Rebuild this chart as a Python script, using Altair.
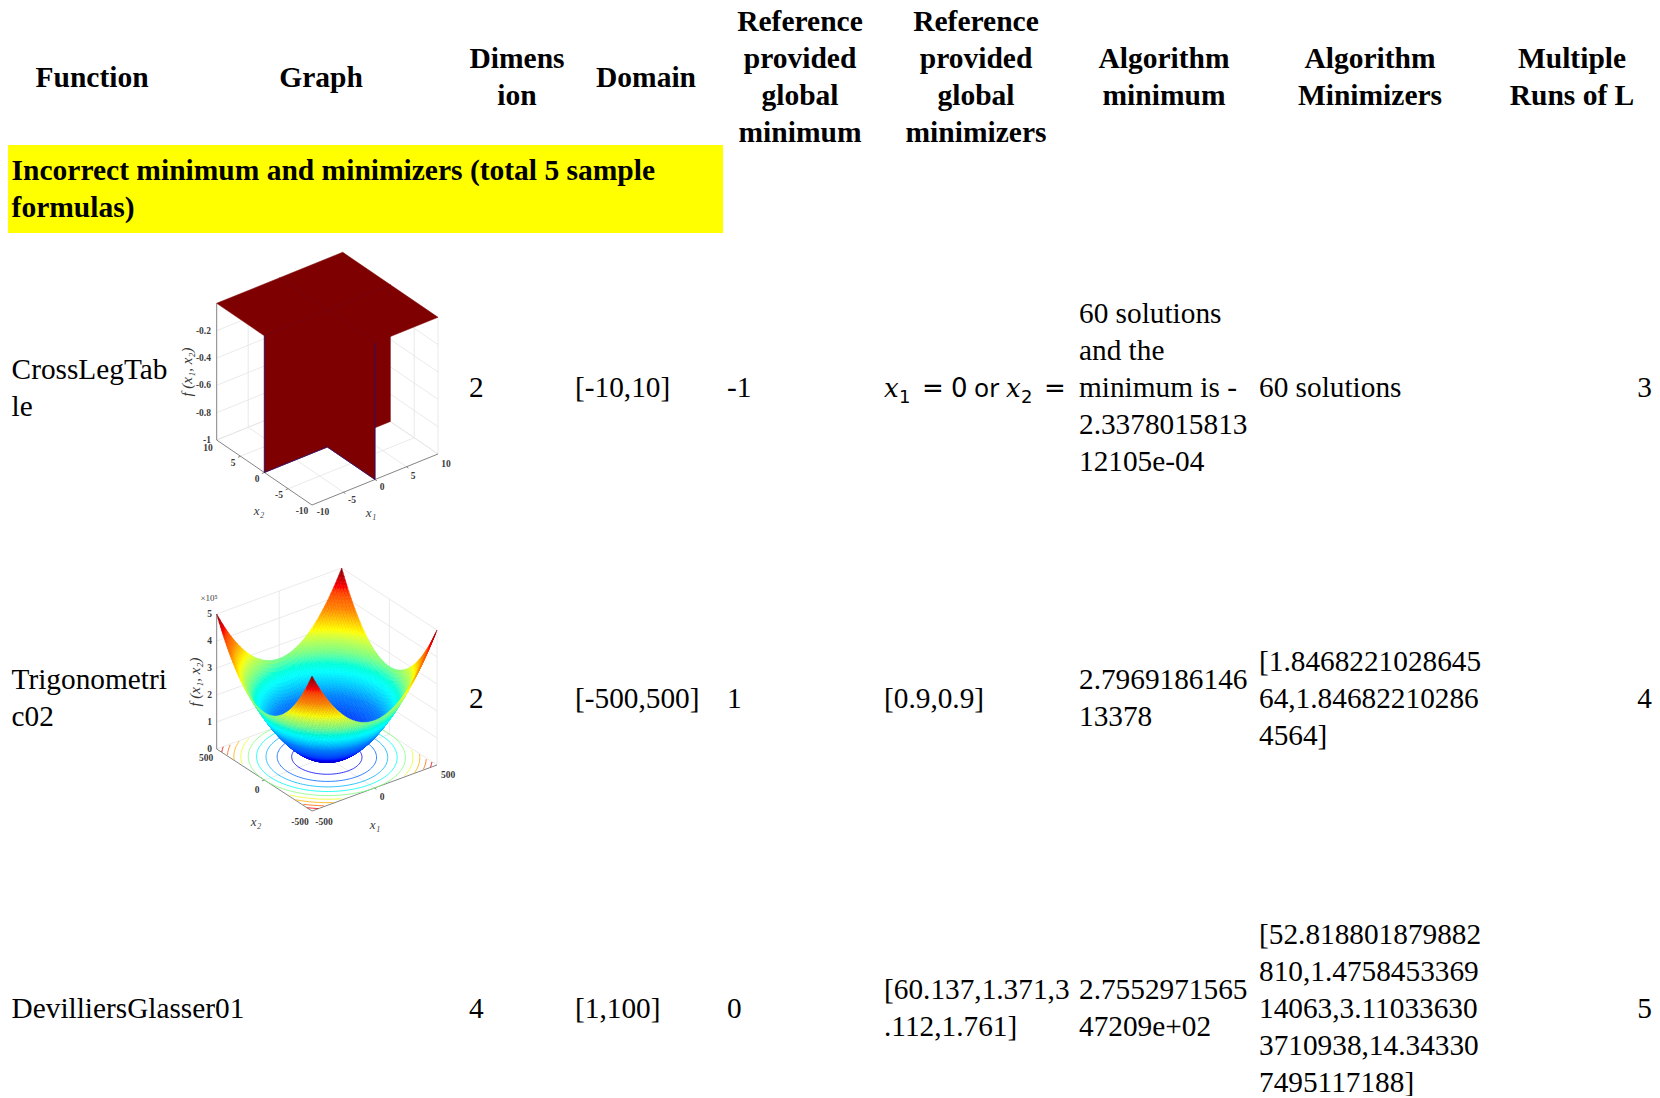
import math
import altair as alt
import pandas as pd

# ---------- table content ----------
header_cells = [
    ["Function"], ["Graph"], ["Dimens", "ion"], ["Domain"],
    ["Reference", "provided", "global", "minimum"],
    ["Reference", "provided", "global", "minimizers"],
    ["Algorithm", "minimum"], ["Algorithm", "Minimizers"], ["Multiple", "Runs of L"],
]
section_title = ["Incorrect minimum and minimizers (total 5 sample", "formulas)"]
col_function = [["CrossLegTab", "le"], ["Trigonometri", "c02"], ["DevilliersGlasser01"]]
col_dimension = [["2"], ["2"], ["4"]]
col_domain = [["[-10,10]"], ["[-500,500]"], ["[1,100]"]]
col_ref_min = [["-1"], ["1"], ["0"]]
col_ref_args = [[], ["[0.9,0.9]"], ["[60.137,1.371,3", ".112,1.761]"]]
col_alg_min = [
    ["60 solutions", "and the", "minimum is -", "2.3378015813", "12105e-04"],
    ["2.7969186146", "13378"],
    ["2.7552971565", "47209e+02"],
]
col_alg_args = [
    ["60 solutions"],
    ["[1.8468221028645", "64,1.84682210286", "4564]"],
    ["[52.818801879882", "810,1.4758453369", "14063,3.11033630", "3710938,14.34330", "7495117188]"],
]
col_runs = [["3"], ["4"], ["5"]]

# ---------- graph values ----------
table_ticks = [-5, 0, 5]
table_z_ticks = [-0.2, -0.4, -0.6, -0.8, -1]
table_x2_labels = ["10", "5", "0", "-5", "-10"]
table_x1_labels = ["-10", "-5", "0", "5", "10"]
# height (in 1e5) of the bowl's edge above its mid-line, from x = 0 out to |x| = 500 in steps of 12.5
bowl_profile = [0, .0016, .0063, .0141, .025, .0391, .0563, .0766, .1, .1266, .1563, .1891, .225, .2641,
                .3063, .3516, .4, .4516, .5063, .5641, .625, .6891, .7563, .8266, .9, .9766, 1.0563,
                1.1391, 1.225, 1.3141, 1.4063, 1.5016, 1.6, 1.7016, 1.8063, 1.9141, 2.025, 2.1391,
                2.2563, 2.3766, 2.5]
bowl_z_ticks = [0, 1, 2, 3, 4, 5]
contour_levels = [0.5, 1, 1.5, 2, 2.5, 3, 3.5, 4, 4.5]
jet_stops = [0, 0.55, 1.25, 1.9, 2.5, 3.1, 3.75, 4.4, 5]
jet_colors = ["#00008f", "#0000ff", "#0080ff", "#00ffff", "#80ff80", "#ffff00", "#ff8000", "#ff0000", "#800000"]

# ---------- layout (page pixels) ----------
W, H = 1644, 1088
FS = 29.3
FS_BOLD = 29.5
LEAD = 37
header_x = [92, 321, 517, 646, 800, 976, 1164, 1370, 1572]
header_y = [77, 77, 76.5, 77, 76.5, 76.5, 76.5, 76.5, 76.5]
row_y = [387.5, 698, 1008]
left_edges = dict(fn=11.6, dim=469, dom=575, rmin=727, rarg=884, amin=1079, aarg=1259)
BASE = 9.5  # middle of line to alphabetic baseline


def cell(lines, x, cy):
    top = cy - (len(lines) - 1) * LEAD / 2
    return [dict(text=t, x=x, y=top + i * LEAD + BASE) for i, t in enumerate(lines)]


xs = alt.Scale(domain=[8, 8 + W], range=[0, W])
ys = alt.Scale(domain=[8, 8 + H], range=[0, H])
X = alt.X("x:Q", scale=xs, axis=None)
Y = alt.Y("y:Q", scale=ys, axis=None)


def text_layer(rows, **mk):
    opts = dict(font="Liberation Serif", fontSize=FS, color="#000000", baseline="alphabetic", align="left")
    opts.update(mk)
    return alt.Chart(pd.DataFrame(rows)).mark_text(**opts).encode(x=X, y=Y, text="text:N")


header_rows = []
for lines, x, y in zip(header_cells, header_x, header_y):
    header_rows += cell(lines, x, y)

section_rows = cell(section_title, left_edges["fn"], 188.7)
body_rows, right_rows = [], []
for i, cy in enumerate(row_y):
    body_rows += cell(col_function[i], left_edges["fn"], cy)
    body_rows += cell(col_dimension[i], left_edges["dim"], cy)
    body_rows += cell(col_domain[i], left_edges["dom"], cy)
    body_rows += cell(col_ref_min[i], left_edges["rmin"], cy)
    if col_ref_args[i]:
        body_rows += cell(col_ref_args[i], left_edges["rarg"], cy)
    body_rows += cell(col_alg_min[i], left_edges["amin"], cy)
    body_rows += cell(col_alg_args[i], left_edges["aarg"], cy)
    right_rows += cell(col_runs[i], 1652, cy)

banner = alt.Chart(pd.DataFrame([dict(x=6.5, x2=723, y=145, y2=233)])).mark_rect(color="#ffff00").encode(
    x=X, x2="x2:Q", y=Y, y2="y2:Q")


# ---------- 3D helpers ----------
def projector(center, ux1, ux2, uz, z0):
    def p(a, b, z):
        return (center[0] + ux1[0] * a + ux2[0] * b,
                center[1] + ux1[1] * a + ux2[1] * b - uz * (z - z0))
    return p


def pg(pts):
    return [[x - 8, y - 8] for x, y in pts]


def line_feat(pts, **props):
    return dict(type="Feature", geometry=dict(type="LineString", coordinates=pg(pts)), properties=props)


def poly_feat(pts, **props):
    ring = pg(pts)
    ring.append(ring[0])
    return dict(type="Feature", geometry=dict(type="Polygon", coordinates=[ring]), properties=props)


def geo(features, **mk):
    return alt.Chart(alt.Data(values=features)).mark_geoshape(**mk).project(type="identity", scale=1, translate=[0, 0])


GRID = "#e4e4e4"
AXIS = "#777777"


def box(p, lo, hi, ticks, zticks, ztop, zbot):
    grid = []
    for t in ticks:
        grid.append(line_feat([p(t, hi, zbot), p(t, hi, ztop)]))
        grid.append(line_feat([p(hi, t, zbot), p(hi, t, ztop)]))
        grid.append(line_feat([p(t, lo, zbot), p(t, hi, zbot)]))
        grid.append(line_feat([p(lo, t, zbot), p(hi, t, zbot)]))
    for z in zticks:
        grid.append(line_feat([p(lo, hi, z), p(hi, hi, z), p(hi, lo, z)]))
    grid.append(line_feat([p(lo, hi, ztop), p(hi, hi, ztop), p(hi, lo, ztop)]))
    grid.append(line_feat([p(hi, hi, zbot), p(hi, hi, ztop)]))
    grid.append(line_feat([p(hi, lo, zbot), p(hi, lo, ztop)]))
    grid.append(line_feat([p(lo, hi, zbot), p(hi, hi, zbot), p(hi, lo, zbot)]))
    axes = [line_feat([p(lo, hi, ztop), p(lo, hi, zbot), p(lo, lo, zbot), p(hi, lo, zbot)])]
    for t in ticks:
        axes.append(line_feat([p(t, lo, zbot), p(t, lo - (hi - lo) * 0.02, zbot)]))
        axes.append(line_feat([p(lo, t, zbot), p(lo - (hi - lo) * 0.02, t, zbot)]))
    return [geo(grid, filled=False, stroke=GRID, strokeWidth=0.8),
            geo(axes, filled=False, stroke=AXIS, strokeWidth=0.9)]


def small(rows, **mk):
    o = dict(fontSize=9.5, fontWeight="bold", color="#3a3a3a", align="center", baseline="middle")
    o.update(mk)
    return text_layer(rows, **o)


# ---------- graph 1: CrossLegTable ----------
p1 = projector((327.35, 447), (6.3, -2.55), (-4.765, -3.25), 136.7, -1)
lo, hi = -10, 10
RED = "#7f0000"
g1 = box(p1, lo, hi, table_ticks, table_z_ticks, 0, -1)
back_walls = [
    poly_feat([p1(0, 0, -1), p1(0, hi, -1), p1(0, hi, 0), p1(0, 0, 0)]),
    poly_feat([p1(0, 0, -1), p1(hi, 0, -1), p1(hi, 0, 0), p1(0, 0, 0)]),
]
front_walls = [
    poly_feat([p1(0, 0, -1), p1(lo, 0, -1), p1(lo, 0, 0), p1(0, 0, 0)]),
    poly_feat([p1(0, 0, -1), p1(0, lo, -1), p1(0, lo, 0), p1(0, 0, 0)]),
]
top_plane = [poly_feat([p1(lo, lo, 0), p1(hi, lo, 0), p1(hi, hi, 0), p1(lo, hi, 0)])]
g1.append(geo(back_walls + front_walls + top_plane, color=RED, stroke=RED, strokeWidth=0.5))
g1.append(geo([line_feat([p1(lo, 0, 0), p1(lo, 0, -1), p1(0, 0, -1), p1(0, lo, -1), p1(0, lo, 0)])],
              filled=False, stroke="#30106a", strokeWidth=0.9))
g1.append(geo([line_feat([p1(lo, 0, 0), p1(hi, 0, 0)]), line_feat([p1(0, lo, 0), p1(0, hi, 0)])],
              filled=False, stroke="#6a0420", strokeWidth=0.5))
g1_labels = [dict(text=str(t), x=211, y=p1(lo, hi, t)[1]) for t in table_z_ticks]
g1.append(small(g1_labels, align="right"))
g1_x2_pos = [(208, 448), (233, 463), (257, 479), (279, 495), (302, 511)]
g1_x1_pos = [(323, 512), (352, 500), (382, 487), (413, 476), (446, 464)]
g1.append(small([dict(text=t, x=a, y=b) for t, (a, b) in zip(table_x2_labels + table_x1_labels, g1_x2_pos + g1_x1_pos)]))
g1.append(small([dict(text="x₂", x=259, y=511), dict(text="x₁", x=371, y=513)],
                fontStyle="italic", fontWeight="normal", fontSize=13))
g1.append(small([dict(text="f (x₁, x₂)", x=187, y=372)], fontStyle="italic", fontWeight="normal",
                fontSize=15, angle=270))

# ---------- graph 2: Trigonometric02 ----------
p2 = projector((326.85, 757), (62.5 / 500, -23 / 500), (-47.65 / 500, -31 / 500), 27, 0)
g2 = box(p2, -500, 500, [0], bowl_z_ticks[1:-1], 5, 0)

jet = alt.Scale(domain=jet_stops, range=jet_colors)
contours = []
for lev in contour_levels:
    r = 500 * (2 * lev / 5) ** 0.5
    segs, cur = [], []
    for d in range(0, 361, 3):
        t = math.radians(d)
        a, b = r * math.cos(t), r * math.sin(t)
        if abs(a) <= 500 and abs(b) <= 500:
            cur.append(p2(a, b, 0))
        elif cur:
            segs.append(cur)
            cur = []
    if cur:
        segs.append(cur)
    for sg in segs:
        if len(sg) > 1:
            contours.append(line_feat(sg, z=lev))
g2.append(geo(contours, filled=False, strokeWidth=0.8).encode(
    stroke=alt.Stroke("properties.z:Q", scale=jet, legend=None)))

n = len(bowl_profile) - 1
grid_vals = [k * 12.5 for k in range(-n, n + 1)]
prof = [bowl_profile[abs(k)] for k in range(-n, n + 1)]
quads = []
for i in range(len(grid_vals) - 1):
    for j in range(len(grid_vals) - 1):
        a0, a1 = grid_vals[i], grid_vals[i + 1]
        b0, b1 = grid_vals[j], grid_vals[j + 1]
        zs = [prof[i] + prof[j], prof[i + 1] + prof[j], prof[i + 1] + prof[j + 1], prof[i] + prof[j + 1]]
        pts = [p2(a0, b0, zs[0]), p2(a1, b0, zs[1]), p2(a1, b1, zs[2]), p2(a0, b1, zs[3])]
        depth = p2((a0 + a1) / 2, (b0 + b1) / 2, 0)[1]
        quads.append((depth, poly_feat(pts, z=round(sum(zs) / 4, 3))))
quads.sort(key=lambda q: q[0])
g2.append(geo([q[1] for q in quads], strokeWidth=0.5).encode(
    fill=alt.Fill("properties.z:Q", scale=jet, legend=None),
    stroke=alt.Stroke("properties.z:Q", scale=jet, legend=None)))

g2.append(small([dict(text=str(t), x=212, y=p2(-500, 500, t)[1]) for t in bowl_z_ticks], align="right"))
g2.append(small([dict(text="×10⁵", x=209, y=598)], fontWeight="normal", fontSize=9))
g2.append(small([dict(text="500", x=206, y=758), dict(text="0", x=257, y=790), dict(text="-500", x=300, y=821.5),
                 dict(text="-500", x=324, y=821.5), dict(text="0", x=382, y=797), dict(text="500", x=448, y=775)]))
g2.append(small([dict(text="x₂", x=256, y=821.5), dict(text="x₁", x=375, y=825)],
                fontStyle="italic", fontWeight="normal", fontSize=13))
g2.append(small([dict(text="f (x₁, x₂)", x=195, y=682)], fontStyle="italic", fontWeight="normal",
                fontSize=15, angle=270))

# ---------- the math cell, run by run ----------
base_y = row_y[0] + BASE
math_layers = [
    text_layer([dict(text="x", x=884, y=base_y), dict(text="x", x=1006, y=base_y)], fontStyle="italic",
               font="DejaVu Serif", fontSize=26),
    text_layer([dict(text="1", x=899, y=base_y + 6), dict(text="2", x=1021, y=base_y + 6)], font="DejaVu Sans", fontSize=18),
    text_layer([dict(text="=", x=922, y=base_y), dict(text="0", x=951, y=base_y), dict(text="=", x=1044, y=base_y)],
               font="DejaVu Sans", fontSize=26),
    text_layer([dict(text="or", x=974, y=base_y)], font="Noto Sans", fontSize=25),
]

layers = [banner]
layers += g1 + g2
layers += [
    text_layer(header_rows, fontWeight="bold", align="center", fontSize=FS_BOLD),
    text_layer(section_rows, fontWeight="bold", fontSize=FS_BOLD),
    text_layer(body_rows),
    text_layer(right_rows, align="right"),
]
layers += math_layers

chart = alt.layer(*layers).properties(
    width=W, height=H, padding=0, autosize=alt.AutoSizeParams(type="none")
).configure_view(stroke=None)
chart.save("out.html", embed_options={"renderer": "svg", "actions": False})
